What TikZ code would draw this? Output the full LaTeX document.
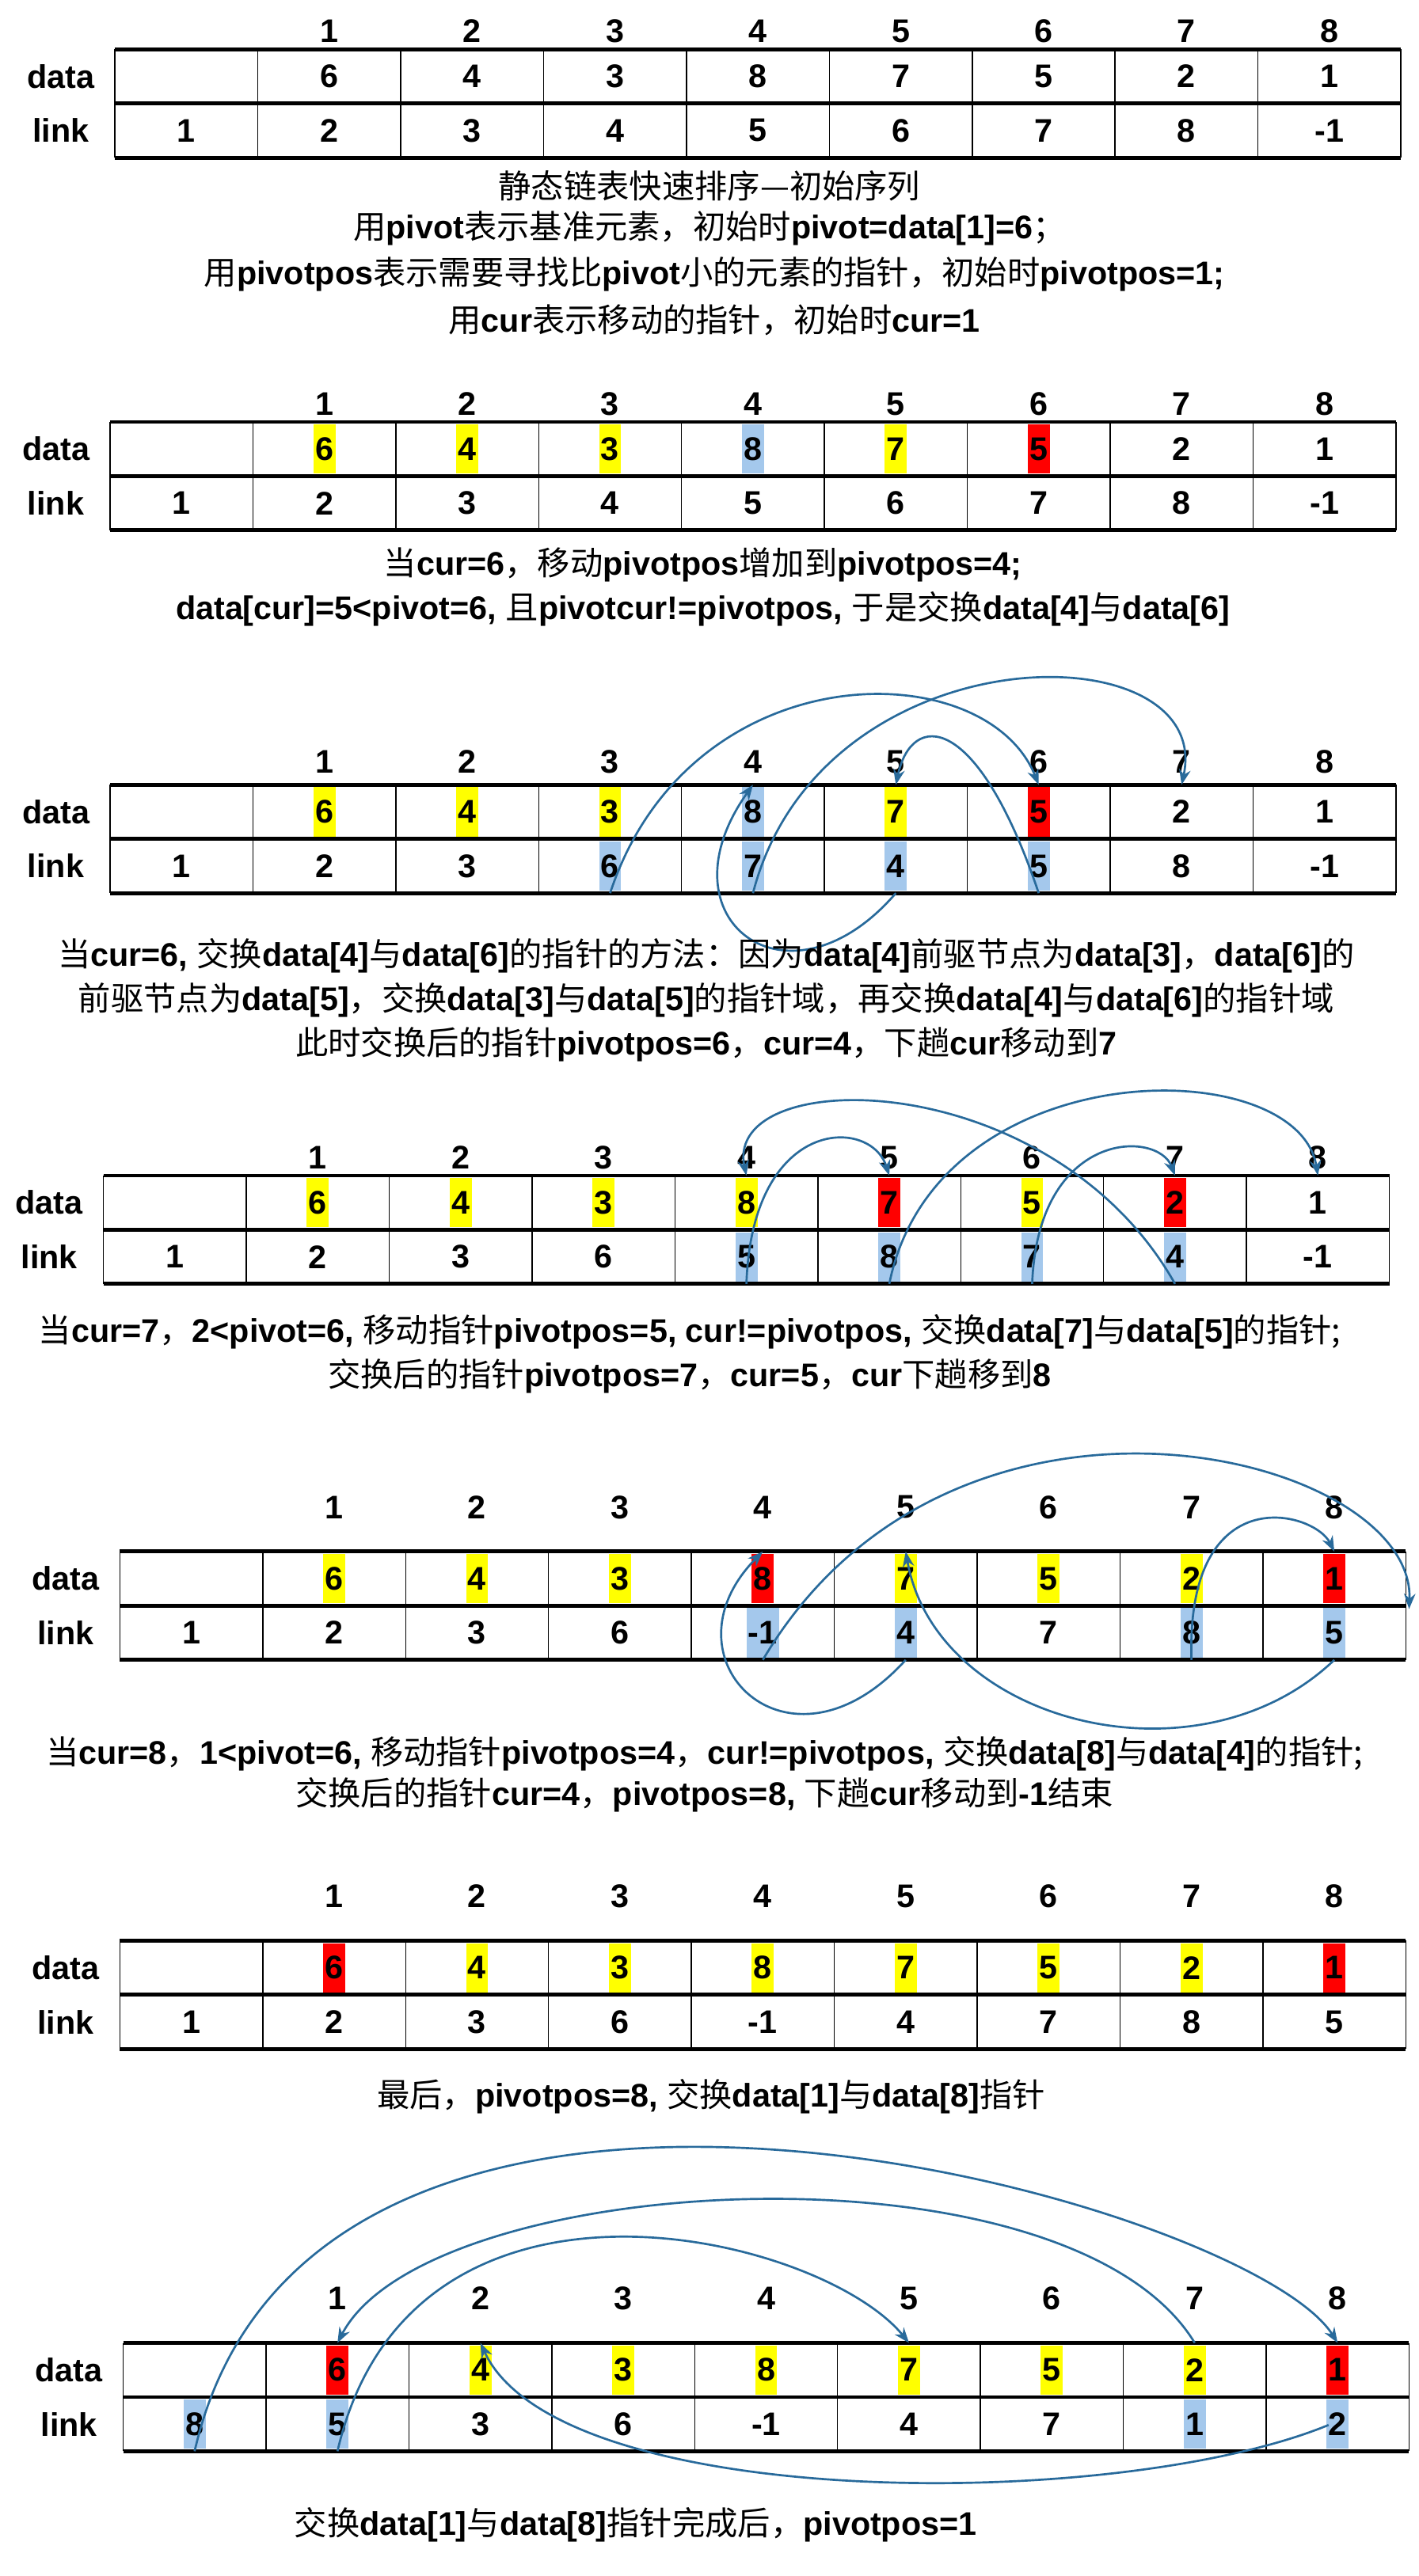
\documentclass[tikz,border=0pt]{standalone}
\usepackage{fontspec}
\setmainfont{Liberation Sans}
\newfontfamily\cjk{Noto Sans CJK SC}
\newcommand\zh[1]{{\cjk\mdseries #1}}
\usetikzlibrary{arrows.meta}
\definecolor{hy}{RGB}{255,255,0}
\definecolor{hr}{RGB}{255,0,0}
\definecolor{hb}{RGB}{164,200,236}
\definecolor{ac}{RGB}{40,106,155}
\tikzset{
 txt/.style={font=\bfseries\fontsize{17}{20}\selectfont, inner sep=0pt},
 cell/.style={txt, inner xsep=1pt, minimum height=0.9cm},
 captxt/.style={txt, anchor=center},
 arr/.style={draw=ac, line width=1.1pt, -{Stealth[length=8pt,width=6pt]}},
 thk/.style={line width=2pt},
}
\newcommand\tbl[6]{%
 \begin{scope}[shift={(#2,#3)}]
  \foreach \k in {1,...,8} \draw[line width=0.6pt] (87*\k,0) -- (87*\k,66);
  \draw[line width=0.6pt] (0,0) -- (0,66) (783,0) -- (783,66);
  \draw[thk] (0,0) -- (783,0) (0,33) -- (783,33) (0,66) -- (783,66);
  \node[txt] (#1-dl) at (-33,16.5) {data};
  \node[txt] (#1-ll) at (-33,49.5) {link};
  \foreach \k in {1,...,8} \node[txt] (#1-i\k) at (87*\k+43.5,#6) {\k};
  \foreach \v/\c [count=\k] in {#4} {
   \node[cell, fill=\c] (#1-d\k) at (87*\k+43.5,16.5) {\v};
   \coordinate (#1dt\k) at (87*\k+43.5,0);}
  \foreach \v/\c [count=\k from 0] in {#5} {
   \node[cell, fill=\c] (#1-l\k) at (87*\k+43.5,49.5) {\v};
   \coordinate (#1lb\k) at (87*\k+43.5,66);}
 \end{scope}}
\begin{document}
\begin{tikzpicture}[x=0.03cm,y=-0.03cm]
\fill[white] (0,0) rectangle (864,1569);
\useasboundingbox (0,0) rectangle (864,1569);
% T1
\tbl{A}{70}{30}{6/none,4/none,3/none,8/none,7/none,5/none,2/none,1/none}{1/none,2/none,3/none,4/none,5/none,6/none,7/none,8/none,-1/none}{-11}
\node[captxt] (c1) at (432,113) {\zh{静态链表快速排序—初始序列}};
\node[captxt] (c2) at (432,139) {\zh{用}pivot\zh{表示基准元素，初始时}pivot=data[1]=6\zh{；}};
\node[captxt] (c3) at (435,167) {\zh{用}pivotpos\zh{表示需要寻找比}pivot\zh{小的元素的指针，初始时}pivotpos=1;};
\node[captxt] (c4) at (435,195) {\zh{用}cur\zh{表示移动的指针，初始时}cur=1};
% T2
\tbl{B}{67}{257}{6/hy,4/hy,3/hy,8/hb,7/hy,5/hr,2/none,1/none}{1/none,2/none,3/none,4/none,5/none,6/none,7/none,8/none,-1/none}{-11}
\node[captxt] (c5) at (428,344) {\zh{当}cur=6\zh{，移动}pivotpos\zh{增加到}pivotpos=4;};
\node[captxt] (c6) at (428,371) {data[cur]=5<pivot=6, \zh{且}pivotcur!=pivotpos, \zh{于是交换}data[4]\zh{与}data[6]};
% T3
\tbl{C}{67}{478}{6/hy,4/hy,3/hy,8/hb,7/hy,5/hr,2/none,1/none}{1/none,2/none,3/none,6/hb,7/hb,4/hb,5/hb,8/none,-1/none}{-14}
\draw[arr] (Clb3) .. controls (420,397) and (600,397) .. (Cdt6);
\draw[arr] (Clb4) .. controls (500,383) and (740,383) .. (Cdt7);
\draw[arr] (Clb6) .. controls (595,433) and (555,433) .. (Cdt5);
\draw[arr] (Clb5) .. controls (480,620) and (400,560) .. (Cdt4);
\node[captxt] (c7) at (430,582) {\zh{当}cur=6, \zh{交换}data[4]\zh{与}data[6]\zh{的指针的方法：因为}data[4]\zh{前驱节点为}data[3]\zh{，}data[6]\zh{的}};
\node[captxt] (c8) at (430,609) {\zh{前驱节点为}data[5]\zh{，交换}data[3]\zh{与}data[5]\zh{的指针域，再交换}data[4]\zh{与}data[6]\zh{的指针域}};
\node[captxt] (c9) at (430,636) {\zh{此时交换后的指针}pivotpos=6\zh{，}cur=4\zh{，下趟}cur\zh{移动到}7};
% T4
\tbl{D}{63}{716}{6/hy,4/hy,3/hy,8/hy,7/hr,5/hy,2/hr,1/none}{1/none,2/none,3/none,6/none,5/hb,8/hb,7/hb,4/hb,-1/none}{-11}
\draw[arr] (Dlb4) .. controls (458,680) and (530,680) .. (Ddt5);
\draw[arr] (Dlb5) .. controls (570,640) and (790,640) .. (Ddt8);
\draw[arr] (Dlb6) .. controls (632,688) and (705,688) .. (Ddt7);
\draw[arr] (Dlb7) .. controls (640,648) and (440,648) .. (Ddt4);
\node[captxt] (c10) at (420,811) {\zh{当}cur=7\zh{，}2<pivot=6, \zh{移动指针}pivotpos=5, cur!=pivotpos, \zh{交换}data[7]\zh{与}data[5]\zh{的指针;}};
\node[captxt] (c11) at (420,838) {\zh{交换后的指针}pivotpos=7\zh{，}cur=5\zh{，}cur\zh{下趟移到}8};
% T5
\tbl{E}{73}{945}{6/hy,4/hy,3/hy,8/hr,7/hy,5/hy,2/hy,1/hr}{1/none,2/none,3/none,6/none,-1/hb,4/hb,7/none,8/hb,5/hb}{-27}
\coordinate (Ee) at (858,980);
\draw[arr] (Elb4) .. controls (580,815) and (862,885) .. (Ee);
\draw[arr] (Elb5) .. controls (480,1090) and (400,1010) .. (Edt4);
\draw[arr] (Elb8) .. controls (730,1090) and (570,1050) .. (Edt5);
\draw[arr] (Elb7) .. controls (722,900) and (800,920) .. (Edt8);
\node[captxt] (c12) at (429,1068) {\zh{当}cur=8\zh{，}1<pivot=6, \zh{移动指针}pivotpos=4\zh{，}cur!=pivotpos, \zh{交换}data[8]\zh{与}data[4]\zh{的指针;}};
\node[captxt] (c13) at (429,1093) {\zh{交换后的指针}cur=4\zh{，}pivotpos=8, \zh{下趟}cur\zh{移动到}-1\zh{结束}};
% T6
\tbl{F}{73}{1182}{6/hr,4/hy,3/hy,8/hy,7/hy,5/hy,2/hy,1/hr}{1/none,2/none,3/none,6/none,-1/none,4/none,7/none,8/none,5/none}{-27}
\node[captxt] (c14) at (433,1277) {\zh{最后，}pivotpos=8, \zh{交换}data[1]\zh{与}data[8]\zh{指针}};
% T7
\tbl{G}{75}{1427}{6/hr,4/hy,3/hy,8/hy,7/hy,5/hy,2/hy,1/hr}{8/hb,5/hb,3/none,6/none,-1/none,4/none,7/none,1/hb,2/hb}{-27}
\coordinate (Gs) at (809,1477);
\draw[arr] (Glb0) .. controls (190,1180) and (760,1340) .. (Gdt8);
\draw[arr] (Glb1) .. controls (250,1300) and (500,1361) .. (Gdt5);
\draw[arr] (Gdt7) .. controls (650,1300) and (260,1322) .. (Gdt1);
\draw[arr] (Gs) .. controls (680,1530) and (340,1530) .. (Gdt2);
\node[captxt] (c15) at (387,1538) {\zh{交换}data[1]\zh{与}data[8]\zh{指针完成后，}pivotpos=1};
\end{tikzpicture}
\end{document}
